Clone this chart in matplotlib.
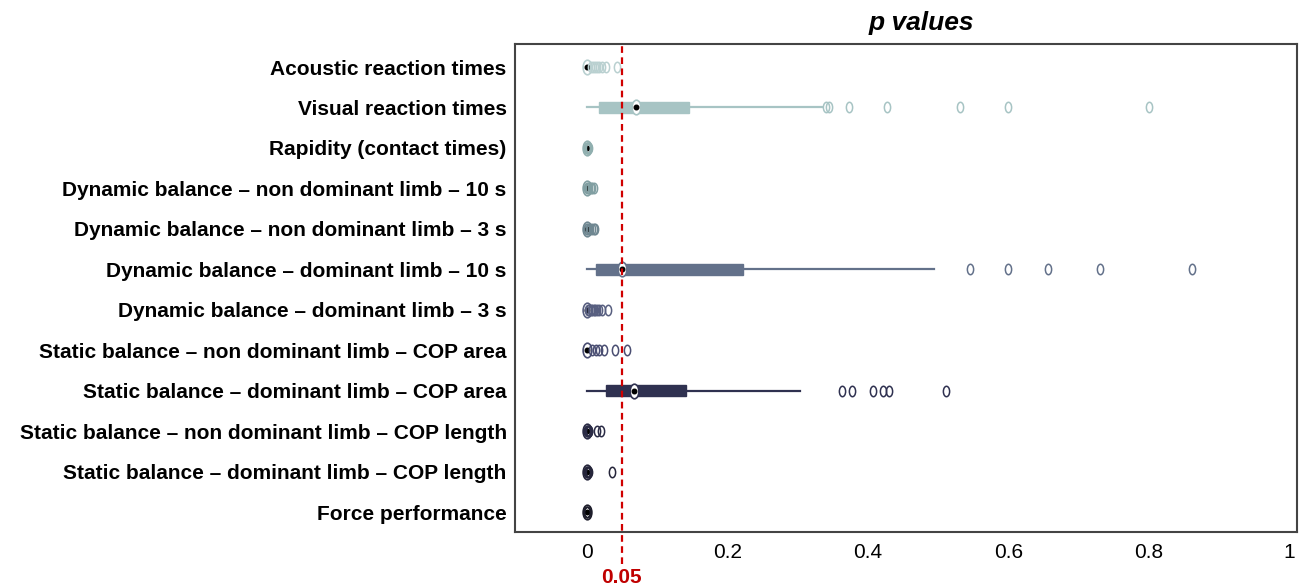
import matplotlib
matplotlib.use("Agg")
import matplotlib.pyplot as plt
from matplotlib.path import Path
from matplotlib.transforms import Affine2D, blended_transform_factory

categories = [
    "Acoustic reaction times",
    "Visual reaction times",
    "Rapidity (contact times)",
    "Dynamic balance – non dominant limb – 10 s",
    "Dynamic balance – non dominant limb – 3 s",
    "Dynamic balance – dominant limb – 10 s",
    "Dynamic balance – dominant limb – 3 s",
    "Static balance – non dominant limb – COP area",
    "Static balance – dominant limb – COP area",
    "Static balance – non dominant limb – COP length",
    "Static balance – dominant limb – COP length",
    "Force performance",
]
q1 = [0.0, 0.018, 0.0, 0.0, 0.0, 0.013, 0.0, 0.0, 0.027, 0.0, 0.0, 0.0]
med = [0.0, 0.07, 0.0, 0.0, 0.0, 0.05, 0.0, 0.0, 0.067, 0.0, 0.0, 0.0]
q3 = [0.001, 0.145, 0.0005, 0.001, 0.001, 0.222, 0.001, 0.001, 0.141, 0.001, 0.001, 0.0005]
whislo = [0.0, 0.0, 0.0, 0.0, 0.0, 0.0, 0.0, 0.0, 0.0, 0.0, 0.0, 0.0]
whishi = [0.002, 0.335, 0.001, 0.002, 0.002, 0.495, 0.002, 0.002, 0.304, 0.002, 0.002, 0.001]
fliers = [
    [0.006, 0.009, 0.012, 0.015, 0.018, 0.022, 0.028, 0.043],
    [0.34, 0.345, 0.373, 0.427, 0.531, 0.60, 0.80],
    [0.0, 0.001, 0.001, 0.002, 0.002, 0.003],
    [0.0, 0.002, 0.004, 0.006, 0.008, 0.01],
    [0.0, 0.001, 0.003, 0.005, 0.007, 0.01, 0.012],
    [0.546, 0.599, 0.656, 0.73, 0.861],
    [0.002, 0.004, 0.006, 0.008, 0.01, 0.012, 0.015, 0.018, 0.022, 0.031],
    [0.008, 0.013, 0.018, 0.025, 0.04, 0.058],
    [0.364, 0.378, 0.408, 0.422, 0.43, 0.511],
    [0.0, 0.001, 0.002, 0.003, 0.004, 0.014, 0.02],
    [0.0, 0.001, 0.002, 0.003, 0.036],
    [0.0, 0.0005, 0.001],
]
colors = ["#b9d0d0", "#a7c4c4", "#90afaf", "#819fa2", "#6f8791", "#63718a",
          "#585f80", "#4a4e72", "#2f3150", "#2a2b45", "#25253a", "#1d1d2a"]
xticks = [0, 0.2, 0.4, 0.6, 0.8, 1]
xticklabels = ["0", "0.2", "0.4", "0.6", "0.8", "1"]
threshold = 0.05

plt.rcParams['font.family'] = ['Liberation Sans', 'DejaVu Sans']

fig = plt.figure(figsize=(12.99, 5.85), dpi=100)
ax = fig.add_axes([515/1299, 1-532/585, (1297-515)/1299, (532-44)/585])

ell = Path.unit_circle().transformed(Affine2D().scale(0.6, 1.0))

n = len(categories)
for i in range(n):
    pos = n - i
    c = colors[i]
    st = dict(q1=q1[i], med=med[i], q3=q3[i], whislo=whislo[i], whishi=whishi[i],
              fliers=fliers[i])
    ax.bxp([st], positions=[pos], widths=0.27, orientation='horizontal',
           patch_artist=True, showcaps=False,
           boxprops=dict(facecolor=c, edgecolor=c, linewidth=1),
           whiskerprops=dict(color=c, linewidth=1.6),
           medianprops=dict(linewidth=0),
           flierprops=dict(marker=ell, markersize=7.5, markerfacecolor='none',
                           markeredgecolor=c, markeredgewidth=1.1, zorder=4))
    ax.plot([med[i]], [pos], marker=ell, markersize=10.5, markerfacecolor='white',
            markeredgecolor=c, markeredgewidth=1.2, zorder=3, linestyle='none')
    ax.plot([med[i]], [pos], marker='o', markersize=3.3, color='black', zorder=3.5,
            linestyle='none')

ax.set_xlim(-0.102, 1.011)
ax.set_ylim(0.506, 12.569)
ax.set_yticks(range(n, 0, -1))
ax.set_yticklabels(categories, fontsize=15, fontweight='bold')
ax.set_xticks(xticks)
ax.set_xticklabels(xticklabels, fontsize=15)
ax.tick_params(axis='both', length=0)
ax.tick_params(axis='y', pad=6)
ax.tick_params(axis='x', pad=8)
for sp in ax.spines.values():
    sp.set_color('#444444')
    sp.set_linewidth(1.5)

tr = blended_transform_factory(ax.transData, ax.transAxes)
ax.plot([threshold, threshold], [-0.065, 1.0], transform=tr, color='#d00000',
        linestyle=(0, (3, 2)), linewidth=1.6, clip_on=False, zorder=5)
ax.text(threshold, -0.094, "0.05", transform=tr, color='#c00000', fontsize=15,
        fontweight='bold', ha='center', va='center')

ax.set_title("p values", fontsize=19, fontweight='bold', fontstyle='italic', pad=10,
             x=0.52)

fig.savefig("out.png", dpi=100)
